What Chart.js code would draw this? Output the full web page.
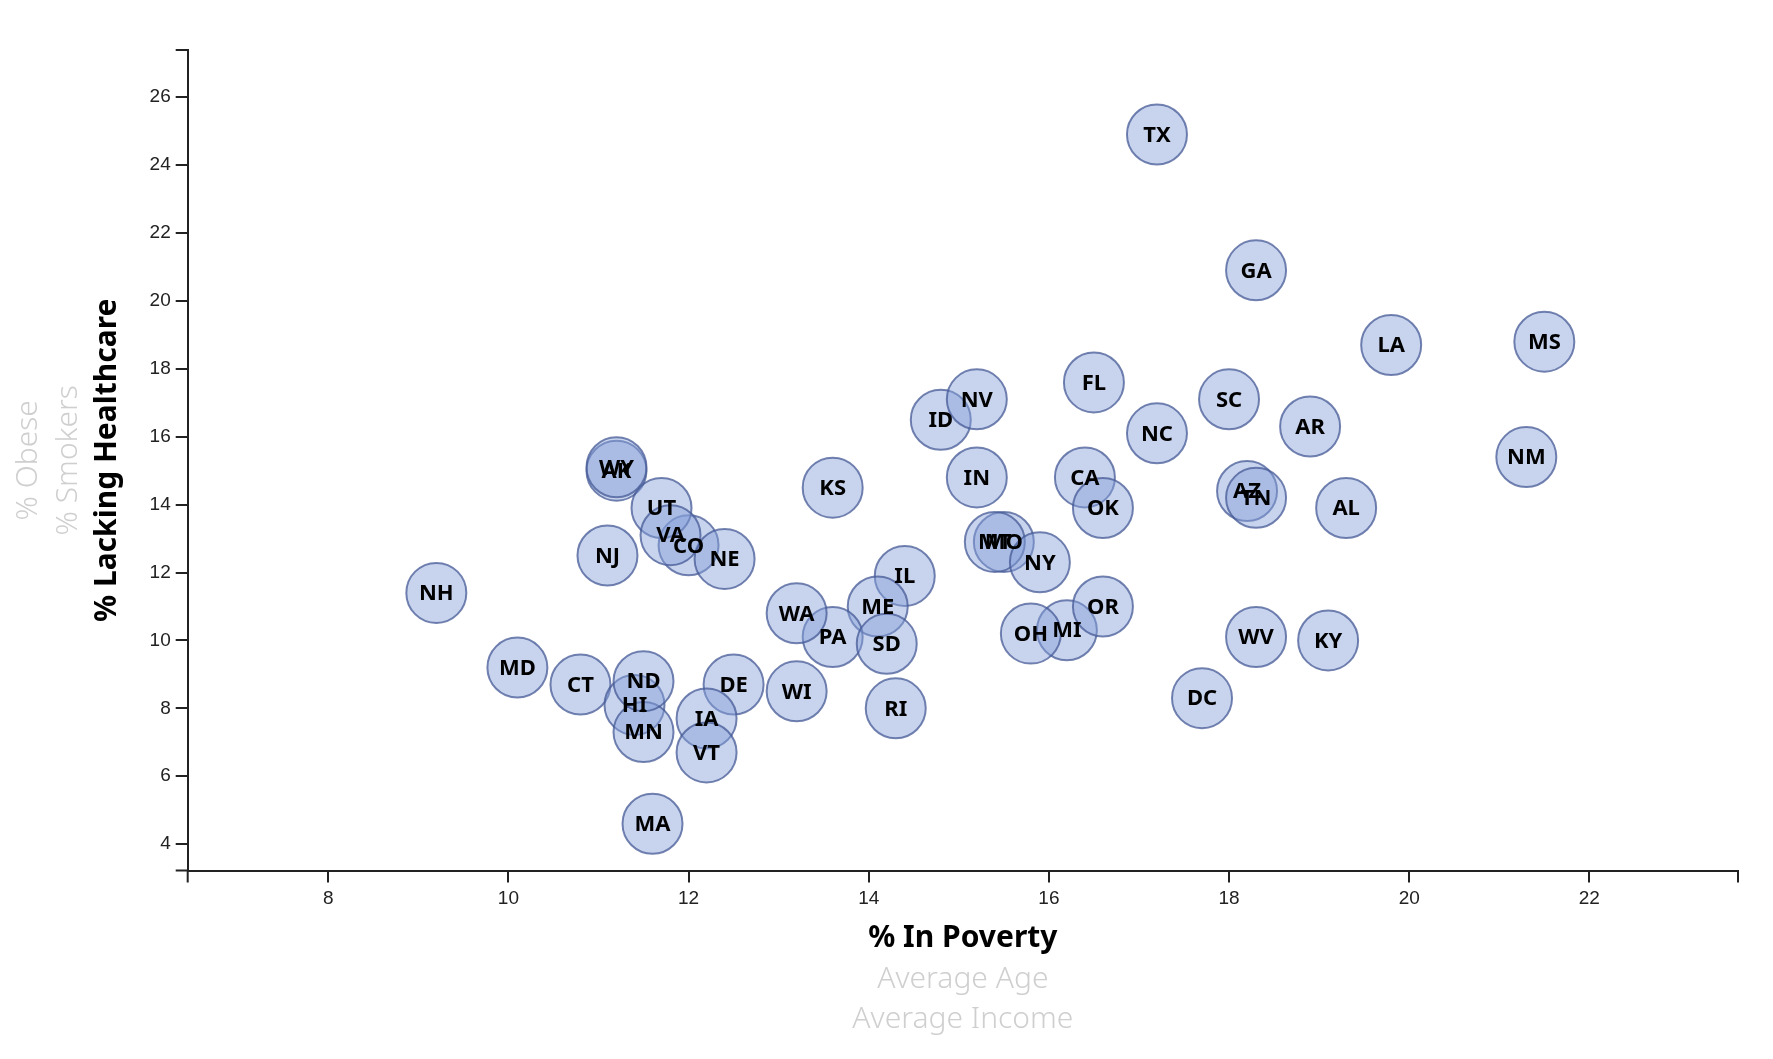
<!DOCTYPE html>
<html>
<head>
<meta charset="utf-8">
<title>Healthcare vs Poverty</title>
<script src="https://cdn.jsdelivr.net/npm/chart.js@4/dist/chart.umd.min.js"></script>
<style>
    body { margin: 0; background: #fff; }
    .chart-container { position: relative; width: 1773px; height: 1059px; }
</style>
</head>
<body>
<div class="chart-container">
    <canvas id="stateChart"></canvas>
</div>
<script>
// state abbreviations
var abbr = ['AL','AK','AZ','AR','CA','CO','CT','DE','DC','FL','GA','HI','ID','IL','IN','IA','KS','KY','LA','ME',
            'MD','MA','MI','MN','MS','MO','MT','NE','NV','NH','NJ','NM','NY','NC','ND','OH','OK','OR','PA','RI',
            'SC','SD','TN','TX','UT','VT','VA','WA','WV','WI','WY'];
// % in poverty (x)
var poverty = [19.3,11.2,18.2,18.9,16.4,12.0,10.8,12.5,17.7,16.5,18.3,11.4,14.8,14.4,15.2,12.2,13.6,19.1,19.8,14.1,
               10.1,11.6,16.2,11.5,21.5,15.5,15.4,12.4,15.2,9.2,11.1,21.3,15.9,17.2,11.5,15.8,16.6,16.6,13.6,14.3,
               18.0,14.2,18.3,17.2,11.7,12.2,11.8,13.2,18.3,13.2,11.2];
// % lacking healthcare (y)
var healthcare = [13.9,15.0,14.4,16.3,14.8,12.8,8.7,8.7,8.3,17.6,20.9,8.1,16.5,11.9,14.8,7.7,14.5,10.0,18.7,11.0,
                  9.2,4.6,10.3,7.3,18.8,12.9,12.9,12.4,17.1,11.4,12.5,15.4,12.3,16.1,8.8,10.2,13.9,11.0,10.1,8.0,
                  17.1,9.9,14.2,24.9,13.9,6.7,13.1,10.8,10.1,8.5,15.1];
var xTicks = [8,10,12,14,16,18,20,22];
var yTicks = [4,6,8,10,12,14,16,18,20,22,24,26];

// axis labels (active one first)
var xLabels = ['% In Poverty','Average Age','Average Income'];
var yLabels = ['% Lacking Healthcare','% Smokers','% Obese'];

var points = poverty.map(function(p, i){ return { x: p, y: healthcare[i] }; });

// domain padding like the d3 version: min*0.7, max*1.1
var xMin = Math.min.apply(null, poverty) * 0.7;
var xMax = Math.max.apply(null, poverty) * 1.1;
var yMin = Math.min.apply(null, healthcare) * 0.7;
var yMax = Math.max.apply(null, healthcare) * 1.1;

var axisColor = '#222';
var activeFont = 'bold 30px "Noto Sans", "Open Sans", sans-serif';
var inactiveFont = '300 30px "Noto Sans", "Open Sans", sans-serif';

// draws state abbreviations, d3 style outer ticks and the axis titles
var extrasPlugin = {
    id: 'extras',
    afterDatasetsDraw: function(chart){
        var ctx = chart.ctx;
        var meta = chart.getDatasetMeta(0);
        ctx.save();
        ctx.fillStyle = '#000';
        ctx.font = 'bold 22px "Noto Sans", "Open Sans", sans-serif';
        ctx.textAlign = 'center';
        ctx.textBaseline = 'middle';
        meta.data.forEach(function(el, i){
            ctx.fillText(abbr[i], el.x, el.y + 1);
        });
        ctx.restore();
    },
    afterDraw: function(chart){
        var ctx = chart.ctx;
        var a = chart.chartArea;
        ctx.save();
        // outer ticks
        ctx.strokeStyle = axisColor;
        ctx.lineWidth = 2;
        ctx.beginPath();
        ctx.moveTo(a.left - 12, a.top); ctx.lineTo(a.left, a.top);
        ctx.moveTo(a.left - 12, a.bottom); ctx.lineTo(a.left, a.bottom);
        ctx.moveTo(a.left, a.bottom); ctx.lineTo(a.left, a.bottom + 12);
        ctx.moveTo(a.right, a.bottom); ctx.lineTo(a.right, a.bottom + 12);
        ctx.stroke();

        // x titles
        var cx = (a.left + a.right) / 2;
        ctx.textAlign = 'center';
        ctx.textBaseline = 'middle';
        ctx.fillStyle = '#000';
        ctx.font = activeFont;
        ctx.fillText(xLabels[0], cx, 938);
        ctx.fillStyle = '#cfcfcf';
        ctx.font = inactiveFont;
        ctx.fillText(xLabels[1], cx, 979);
        ctx.fillText(xLabels[2], cx, 1019);

        // y titles
        var cy = (a.top + a.bottom) / 2;
        var yPos = [107, 68, 28];
        yLabels.forEach(function(t, i){
            ctx.save();
            ctx.translate(yPos[i], cy);
            ctx.rotate(-Math.PI / 2);
            ctx.fillStyle = i === 0 ? '#000' : '#cfcfcf';
            ctx.font = i === 0 ? activeFont : inactiveFont;
            ctx.fillText(t, 0, 0);
            ctx.restore();
        });
        ctx.restore();
    }
};

var ctx = document.getElementById('stateChart').getContext('2d');
var stateChart = new Chart(ctx, {
    type: 'scatter',
    data: {
        datasets: [{
            label: 'States',
            data: points,
            pointRadius: 30,
            pointHoverRadius: 30,
            backgroundColor: 'rgba(134, 160, 218, 0.45)',
            borderColor: 'rgba(70, 90, 150, 0.75)',
            borderWidth: 2
        }]
    },
    options: {
        responsive: true,
        maintainAspectRatio: false,
        animation: false,
        layout: { padding: { top: 50, right: 35, left: 0, bottom: 0 } },
        plugins: {
            legend: { display: false },
            tooltip: { enabled: false }
        },
        scales: {
            x: {
                type: 'linear',
                min: xMin,
                max: xMax,
                afterBuildTicks: function(scale){ scale.ticks = xTicks.map(function(v){ return { value: v }; }); },
                afterFit: function(scale){ scale.height = 188.4; },
                grid: { drawOnChartArea: false, drawTicks: true, tickLength: 12, color: axisColor, lineWidth: 2 },
                border: { display: true, color: axisColor, width: 2 },
                ticks: { color: axisColor, padding: 5, maxRotation: 0, font: { family: '"Liberation Sans", Arial, sans-serif', size: 19 } }
            },
            y: {
                type: 'linear',
                min: yMin,
                max: yMax,
                afterBuildTicks: function(scale){ scale.ticks = yTicks.map(function(v){ return { value: v }; }); },
                afterFit: function(scale){ scale.width = 187.7; },
                grid: { drawOnChartArea: false, drawTicks: true, tickLength: 12, color: axisColor, lineWidth: 2 },
                border: { display: true, color: axisColor, width: 2 },
                ticks: { color: axisColor, padding: 5, font: { family: '"Liberation Sans", Arial, sans-serif', size: 19 } }
            }
        }
    },
    plugins: [extrasPlugin]
});
</script>
</body>
</html>
